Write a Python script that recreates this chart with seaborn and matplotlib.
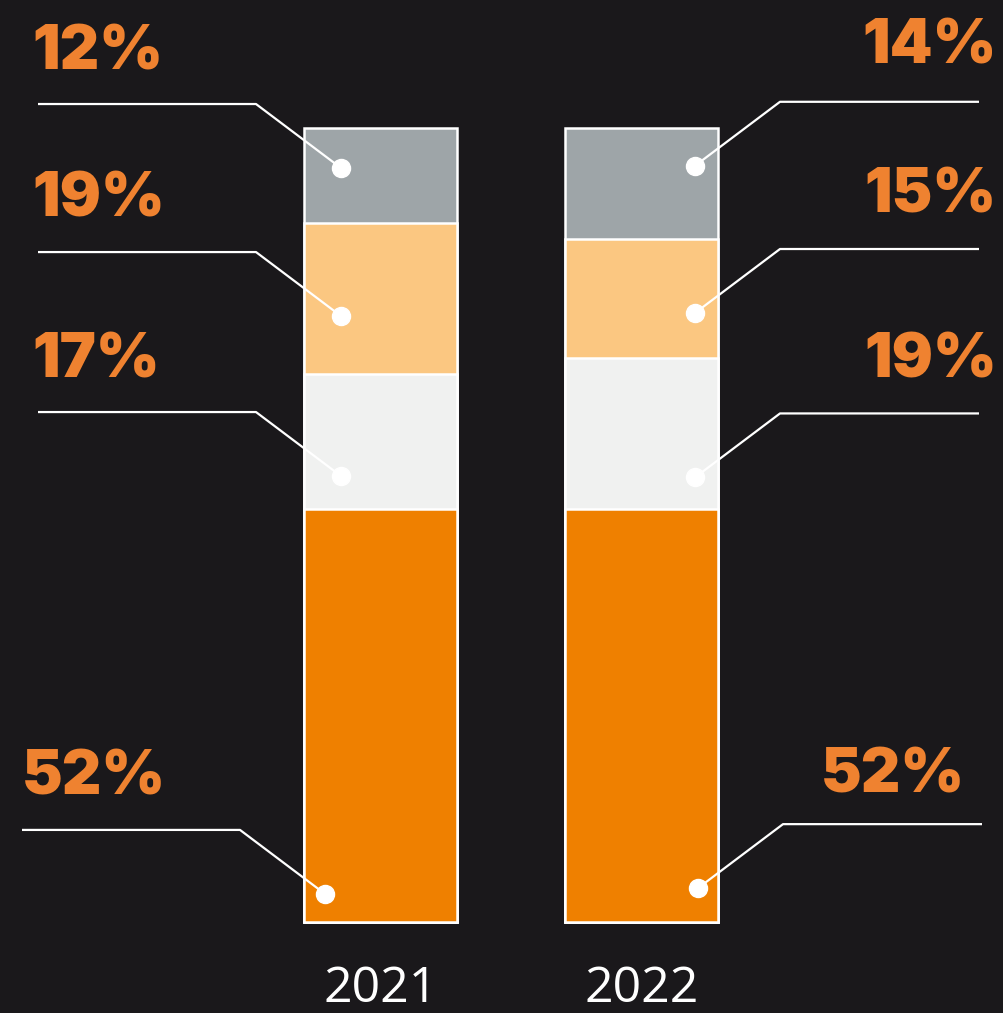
import matplotlib
matplotlib.use('Agg')
import matplotlib.pyplot as plt
import seaborn as sns
import numpy as np
import pandas as pd

# ---------------- data ----------------
years = ['2021', '2022']
segments = ['seg1', 'seg2', 'seg3', 'seg4']          # bottom -> top
values_2021 = [52, 17, 19, 12]
values_2022 = [52, 19, 15, 14]
labels_2021 = ['52%', '17%', '19%', '12%']
labels_2022 = ['52%', '19%', '15%', '14%']
seg_colors = ['#ef8000', '#f0f1f0', '#fbc781', '#9ea5a8']

# ---------------- layout (pixels) ----------------
W, H = 1004, 1013
BG = '#1a181b'
LABEL_C = '#ef8230'
y0_px, y100_px = 922, 128
x0_px, x1_px = 380.5, 642
ppu_y = (y0_px - y100_px) / 100.0
ppu_x = (x1_px - x0_px)
bar_width = 153 / ppu_x

def dx(p):
    return p / ppu_x

def dy(p):
    return p / ppu_y

def xpx(p):
    return (p - x0_px) / ppu_x

sns.set_theme(style='white')
plt.rcParams['font.family'] = ['Inter', 'DejaVu Sans']

fig = plt.figure(figsize=(W / 100, H / 100), dpi=100, facecolor=BG)
ax = fig.add_axes([0, 0, 1, 1])
ax.set_facecolor(BG)

cum = {}
for y, vals in zip(years, [values_2021, values_2022]):
    cum[y] = np.cumsum(vals)
rows = []
for i, s in enumerate(segments):
    for y in years:
        rows.append({'year': y, 'segment': s, 'top': cum[y][i]})
df = pd.DataFrame(rows)

for i in reversed(range(len(segments))):
    sub = df[df['segment'] == segments[i]]
    sns.barplot(data=sub, x='year', y='top', order=years, color=seg_colors[i],
                saturation=1, width=bar_width, edgecolor='white', linewidth=1.8,
                ax=ax, errorbar=None, zorder=2)

ax.set_xlim(-x0_px / ppu_x, (W - x0_px) / ppu_x)
ax.set_ylim(-(H - y0_px) / ppu_y, 100 + y100_px / ppu_y)
ax.axis('off')

dot_frac = {'2021': [0.068, 0.245, 0.385, 0.58], '2022': [0.082, 0.21, 0.38, 0.66]}
dot_off = {'2021': [-55.5, -39.5, -39.5, -39.5], '2022': [56, 53, 53, 53]}
line_end = {'2021': [22, 38, 38, 38], '2022': [982, 979, 979, 979]}
label_x = {'2021': [22, 32, 32, 32], '2022': [965, 997, 997, 997]}
label_gap = {'2021': [35, 35, 36, 35], '2022': [32, 36, 37, 38]}
labels = {'2021': labels_2021, '2022': labels_2022}
vals = {'2021': values_2021, '2022': values_2022}

for k, y in enumerate(years):
    side = -1 if y == '2021' else 1
    bottoms = np.concatenate([[0], cum[y][:-1]])
    for i in range(len(segments)):
        dot_x = k + dx(dot_off[y][i])
        dot_y = bottoms[i] + vals[y][i] * dot_frac[y][i]
        ex = dot_x + side * dx(85)
        ey = dot_y + dy(64)
        hx = xpx(line_end[y][i])
        ax.plot([dot_x, ex, hx], [dot_y, ey, ey], color='white', lw=1.6,
                solid_capstyle='butt', zorder=4)
        ax.plot([dot_x], [dot_y], 'o', color='white', markersize=13, zorder=5)
        ax.text(xpx(label_x[y][i]), ey + dy(label_gap[y][i]), labels[y][i],
                color=LABEL_C, fontsize=44, fontweight='black',
                ha='left' if side < 0 else 'right', va='baseline', zorder=6)
    ax.text(k, -(1002 - y0_px) / ppu_y, y, color='white', fontsize=36,
            family=['Open Sans', 'DejaVu Sans'], ha='center', va='baseline')

fig.savefig('out.png', dpi=100, facecolor=BG)
